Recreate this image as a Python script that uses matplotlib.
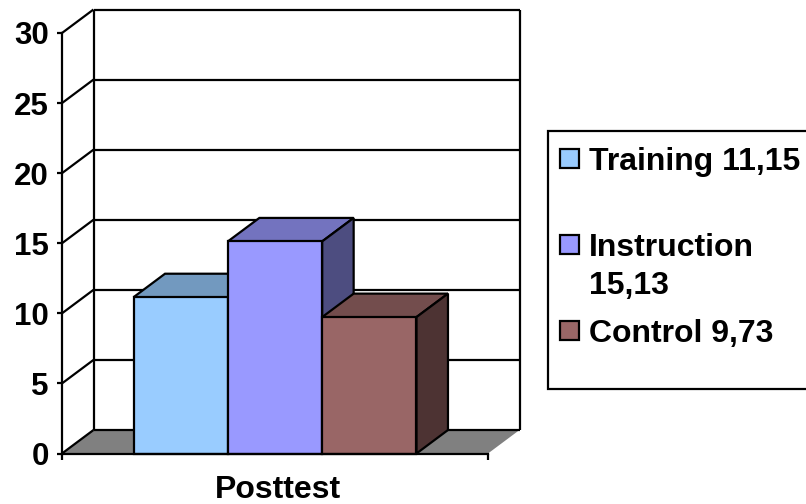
import matplotlib
matplotlib.use("Agg")
import matplotlib.pyplot as plt
from matplotlib.patches import Polygon, Rectangle

plt.rcParams['font.family'] = ['Liberation Sans', 'DejaVu Sans']

series = ['Training', 'Instruction', 'Control']
values = [11.15, 15.13, 9.73]
value_labels = ['11,15', '15,13', '9,73']
category = 'Posttest'
y_ticks = [0, 5, 10, 15, 20, 25, 30]
front_colors = ['#99CCFF', '#9999FF', '#996666']
top_colors = ['#7299BF', '#7373BF', '#734D4D']
side_colors = ['#4D6680', '#4D4D80', '#4D3333']

W, H = 806, 504
fig = plt.figure(figsize=(W / 100, H / 100), dpi=100, facecolor='white')

# Front plane of the 3D box, placed in pixel terms
left, right, bottom, top = 62, 488, 453.5, 33
ax = fig.add_axes([left / W, 1 - bottom / H, (right - left) / W, (bottom - top) / H])
ax.set_xlim(0, 1)
ax.set_ylim(0, 30)
ax.patch.set_visible(False)

# Depth vector in data units
dx = 31.5 / (right - left)
dy = 23.5 / ((bottom - top) / 30)
lw = 1.6
font_size = 23


def face(points, color, z):
    ax.add_patch(Polygon(points, closed=True, facecolor=color, edgecolor='black',
                         linewidth=lw, joinstyle='miter', clip_on=False, zorder=z))


def line(xs, ys, z=1, w=lw):
    ax.plot(xs, ys, color='black', linewidth=w, clip_on=False, zorder=z,
            solid_capstyle='butt')


# Floor
ax.add_patch(Polygon([(0, 0), (1, 0), (1 + dx, dy), (dx, dy)], closed=True,
                     facecolor='#808080', edgecolor='none', clip_on=False, zorder=1))
line([dx, 1 + dx], [dy, dy], z=1.5)

# Walls and gridlines
for v in y_ticks:
    line([0, dx], [v, v + dy])
    if v > 0:
        line([dx, 1 + dx], [v + dy, v + dy])
line([dx, dx], [dy, 30 + dy])
line([1 + dx, 1 + dx], [dy, 30 + dy])

# Bars, drawn left to right so nearer faces overlap correctly
bar_w = 0.2214
x0 = 0.5 - 1.5 * bar_w
for i, v in enumerate(values):
    a, b = x0 + i * bar_w, x0 + (i + 1) * bar_w
    z = 3 + i
    face([(a, 0), (b, 0), (b, v), (a, v)], front_colors[i], z + 0.2)
    face([(a, v), (b, v), (b + dx, v + dy), (a + dx, v + dy)], top_colors[i], z)
    face([(b, 0), (b + dx, dy), (b + dx, v + dy), (b, v)], side_colors[i], z)

# Axes
for s in ['top', 'right']:
    ax.spines[s].set_visible(False)
for s in ['left', 'bottom']:
    ax.spines[s].set_linewidth(lw)
    ax.spines[s].set_zorder(8)
ax.set_yticks(y_ticks)
ax.set_yticklabels([str(v) for v in y_ticks], fontsize=font_size - 0.5, fontweight='bold')
ax.tick_params(axis='y', length=3.6, width=lw, pad=6)
ax.set_xticks([0, 1])
ax.set_xticklabels(['', ''])
ax.tick_params(axis='x', length=4.5, width=lw)
ax.set_xticks([0.506], minor=True)
ax.set_xticklabels([category], minor=True, fontsize=font_size, fontweight='bold')
ax.tick_params(axis='x', which='minor', length=0, pad=15.5)

# Legend panel, in figure pixels; it runs off the right edge
def fx(px):
    return px / W


def fy(py):
    return 1 - py / H


fig.add_artist(Rectangle((fx(548), fy(389)), 270 / W, 258 / H, transform=fig.transFigure,
                         facecolor='white', edgecolor='black', linewidth=lw))
key_tops = [149, 235, 321]
baselines = [[170], [256, 294], [342]]
legend_lines = [[f'{series[0]} {value_labels[0]}'],
                [series[1], value_labels[1]],
                [f'{series[2]} {value_labels[2]}']]
for i in range(3):
    fig.add_artist(Rectangle((fx(560), fy(key_tops[i] + 19)), 19 / W, 19 / H,
                             transform=fig.transFigure, facecolor=front_colors[i],
                             edgecolor='black', linewidth=lw))
    for txt, base in zip(legend_lines[i], baselines[i]):
        fig.text(fx(589), fy(base), txt, fontsize=font_size, fontweight='bold',
                 ha='left', va='baseline')

fig.savefig('out.png', dpi=100)
